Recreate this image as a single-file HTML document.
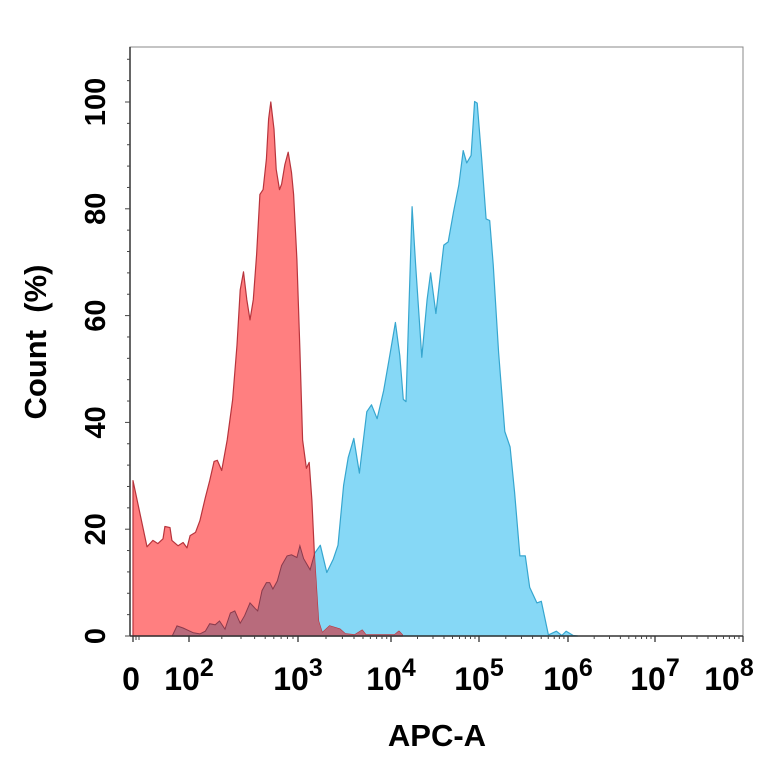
<!DOCTYPE html>
<html><head><meta charset="utf-8"><style>
html,body{margin:0;padding:0;background:#fff;}
svg{display:block;font-family:"Liberation Sans",Arial,sans-serif;}
</style></head><body>
<svg id="chart" width="764" height="764" viewBox="0 0 764 764" xmlns="http://www.w3.org/2000/svg">
<defs><clipPath id="redclip"><path id="redClipPath" d=""/></clipPath></defs>
<g id="plot"></g>
<g id="axes"></g>
<text x="437" y="746" text-anchor="middle" font-size="31" font-weight="bold">APC-A</text>
<text transform="translate(46,342) rotate(-90)" text-anchor="middle" font-size="31" font-weight="bold" xml:space="preserve">Count  (%)</text>
</svg>
<script>
// x values are display-scale decades (0 = zero, 2 = 10^2, 3 = 10^3, ...)
const redX = [0,0.5,0.71,0.89,1.07,1.14,1.32,1.39,1.61,1.79,1.93,2.01,2.06,2.10,2.15,2.19,2.23,2.26,2.30,2.35,2.40,2.44,2.47,2.50,2.53,2.56,2.59,2.62,2.65,2.68,2.71,2.73,2.75,2.78,2.80,2.83,2.85,2.88,2.91,2.94,2.96,2.99,3.02,3.05,3.09,3.12,3.15,3.18,3.22,3.26,3.34,3.45,3.51,3.61,3.69,3.73,4.04,4.09,4.13];
const redY = [29.1,16.7,17.9,17.3,18.2,20.5,20.3,17.9,16.9,17.5,16.5,18.8,19.4,21.6,25.9,29.1,32.7,32.9,31.0,36.7,44.2,54.5,64.8,68.2,63.0,59.2,63.0,71.4,82.7,83.6,89.3,96.8,100,94.9,87.4,83.6,84.6,88.3,90.6,86.8,82.7,70.5,53.6,36.7,31.4,32.5,25.4,14.1,2.8,0.6,1.9,1.3,0.4,0.2,1.1,0.2,0.2,0.9,0.2];
const blueX = [1.40,1.57,1.79,2.04,2.10,2.15,2.19,2.24,2.28,2.33,2.38,2.42,2.47,2.51,2.56,2.61,2.63,2.67,2.71,2.74,2.77,2.81,2.85,2.90,2.94,2.99,3.02,3.06,3.13,3.18,3.24,3.31,3.38,3.43,3.49,3.54,3.60,3.66,3.74,3.79,3.85,3.92,3.98,4.05,4.10,4.14,4.17,4.24,4.28,4.35,4.41,4.45,4.51,4.60,4.65,4.71,4.77,4.82,4.86,4.91,4.95,4.98,5.03,5.08,5.12,5.16,5.22,5.29,5.35,5.40,5.46,5.52,5.57,5.65,5.70,5.78,5.87,5.93,5.98,6.06,6.11];
const blueY = [0,1.9,1.5,0.6,0.4,0.9,2.3,2.1,2.8,1.3,4.3,4.7,2.4,3.8,6.2,5.1,4.7,8.5,10.0,10.0,8.8,10.3,13.2,15.0,15.2,14.7,16.9,14.5,12.4,15.5,17.0,11.9,14.4,17.0,28.2,33.4,37.0,30.5,42.0,43.3,40.7,45.9,51.8,58.7,52.5,44.3,43.9,80.4,69.6,52.2,63.0,68.0,60.4,73.2,73.8,79.4,84.4,90.9,88.6,90.0,100.1,99.8,89.3,78.1,77.8,69.6,53.1,38.3,35.4,26.9,15.0,15.0,9.1,6.2,6.5,0.2,0.9,0.1,0.9,0.1,0];
const xTickVals = [0,2,3,4,5,6,7,8];
const xTickLabels = ["0","10","10","10","10","10","10","10"];
const xTickExps = ["","2","3","4","5","6","7","8"];
const yTickVals = [0,20,40,60,80,100];

const L=130,R=743,T=47,B=636;
const xAnchorsV=[0,2,3,4,5,6,7,8], xAnchorsP=[133,189,298,391,479,568,655,743];
function xs(v){
  if(v<=0) return xAnchorsP[0];
  for(let i=1;i<xAnchorsV.length;i++){
    if(v<=xAnchorsV[i]){const a=xAnchorsV[i-1],b=xAnchorsV[i];return xAnchorsP[i-1]+(v-a)/(b-a)*(xAnchorsP[i]-xAnchorsP[i-1]);}
  }
  return xAnchorsP[xAnchorsP.length-1];
}
function ys(v){return B-(v/100)*(B-102);}
const NS="http://www.w3.org/2000/svg";
function mk(tag,attrs,parent){const e=document.createElementNS(NS,tag);for(const k in attrs)e.setAttribute(k,attrs[k]);parent.appendChild(e);return e;}
function areaPath(X,Y){
  let d="M"+xs(X[0]).toFixed(1)+","+ys(0).toFixed(1);
  for(let i=0;i<X.length;i++) d+=" L"+xs(X[i]).toFixed(1)+","+ys(Y[i]).toFixed(1);
  d+=" L"+xs(X[X.length-1]).toFixed(1)+","+ys(0).toFixed(1)+" Z";
  return d;
}
const plot=document.getElementById('plot');
const bd=areaPath(blueX,blueY), rd=areaPath(redX,redY);
const blue=mk('path',{d:bd,fill:'#86d8f6',stroke:'#36a6cf','stroke-width':1.2,'stroke-linejoin':'round'},plot);


const red=mk('path',{d:rd,fill:'#ff7f80',stroke:'#b8343c','stroke-width':1.2,'stroke-linejoin':'round'},plot);


document.getElementById('redClipPath').setAttribute('d',rd);
const ov=mk('path',{d:bd,fill:'#b86b7c',stroke:'#8a3a4c','stroke-width':1,'clip-path':'url(#redclip)'},plot);



const ax=document.getElementById('axes');
mk('rect',{x:L,y:T,width:R-L,height:B-T,fill:'none',stroke:'#888','stroke-width':1},ax);
mk('line',{x1:L,y1:T,x2:L,y2:B,stroke:'#333','stroke-width':1.5},ax);
mk('line',{x1:L,y1:B,x2:R,y2:B,stroke:'#333','stroke-width':1.5},ax);
for(let v=0;v<=108;v+=4){const y=ys(v);mk('line',{x1:L-(v%20===0?5:3),y1:y,x2:L,y2:y,stroke:'#444','stroke-width':1},ax);}
yTickVals.forEach(v=>{
  const t=mk('text',{transform:`translate(105,${ys(v)}) rotate(-90)`,'text-anchor':'middle','font-size':29,'font-weight':'bold'},ax);
  t.textContent=v;
  
  
});
for(let d=2;d<8;d++){for(let m=2;m<10;m++){const x=xs(d+Math.log10(m));mk('line',{x1:x,y1:B,x2:x,y2:B+3,stroke:'#444','stroke-width':1},ax);}}
[133,136,139].forEach(x=>mk('line',{x1:x,y1:B,x2:x,y2:B+4,stroke:'#444','stroke-width':1},ax));
xTickVals.forEach((v,i)=>{
  const x=xs(v);
  mk('line',{x1:x,y1:B,x2:x,y2:B+6,stroke:'#333','stroke-width':1.3},ax);
  const t=mk('text',{x:i===0?x-2:x-(i===7?14:0),y:690,'text-anchor':'middle','font-size':32,'font-weight':'bold'},ax);
  t.textContent=xTickLabels[i];
  if(xTickExps[i]){const s=mk('tspan',{dy:-14,'font-size':25},t);s.textContent=xTickExps[i];}
  
  
});
</script>
</body></html>
